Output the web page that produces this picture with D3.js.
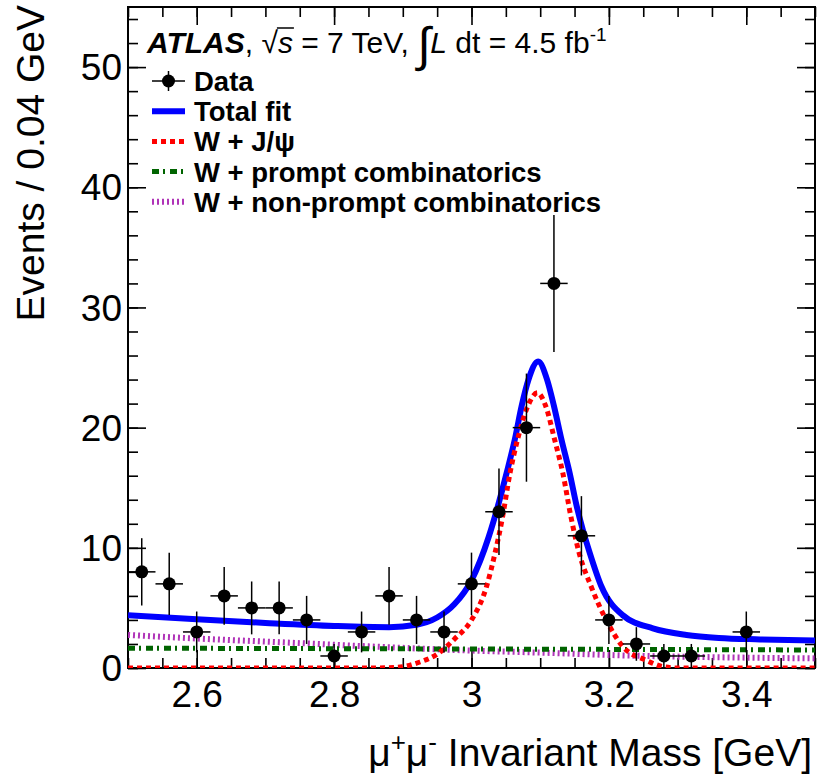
<!DOCTYPE html>
<html>
<head>
<meta charset="utf-8">
<script src="https://cdn.jsdelivr.net/npm/d3@7"></script>
<style>
  body { margin: 0; background: #fff; }
  svg text { font-family: "Liberation Sans", Arial, Helvetica, sans-serif; fill: #000; }
</style>
</head>
<body>
<svg id="chart"></svg>
<script>
// data points (bin centres, 0.04 GeV bins; empty bins are not drawn)
const massBins = [2.52, 2.56, 2.60, 2.64, 2.68, 2.72, 2.76, 2.80, 2.84, 2.88, 2.92,
    2.96, 3.00, 3.04, 3.08, 3.12, 3.16, 3.20, 3.24, 3.28, 3.32, 3.40];
const eventCounts = [8, 7, 3, 6, 5, 5, 4, 1, 3, 6, 4, 3, 7, 13, 20, 32, 11, 4, 2, 1, 1, 3];
const countErrors = [2.8, 2.6, 1.7, 2.4, 2.2, 2.2, 2.0, 1.0, 1.7, 2.4, 2.0, 1.7, 2.6,
    3.6, 4.5, 5.7, 3.3, 2.0, 1.4, 1.0, 1.0, 1.7];

// fit curves, [mass, events]
const totalFit = [[2.50, 4.4], [2.60, 4.05], [2.70, 3.75], [2.80, 3.5], [2.88, 3.4],
    [2.92, 3.6], [2.95, 4.2], [2.975, 5.3], [3.00, 7.3], [3.025, 10.9], [3.04, 13.8],
    [3.051, 16.2], [3.063, 19.0], [3.073, 21.8], [3.083, 24.0], [3.097, 25.5],
    [3.11, 24.0], [3.12, 21.8], [3.131, 19.0], [3.143, 16.2], [3.153, 13.5],
    [3.162, 11.5], [3.172, 9.6], [3.189, 6.8], [3.22, 4.4], [3.264, 3.3],
    [3.313, 2.75], [3.36, 2.5], [3.42, 2.38], [3.50, 2.28]];
const jpsiSignal = [[2.50, 0], [2.85, 0], [2.89, 0.05], [2.925, 0.5], [2.95, 1.15],
    [2.975, 2.4], [3.00, 4.0], [3.022, 6.8], [3.034, 9.5], [3.045, 12.5], [3.056, 16.2],
    [3.067, 19.0], [3.082, 21.8], [3.096, 22.9], [3.108, 21.8], [3.121, 19.0],
    [3.133, 16.2], [3.145, 12.5], [3.157, 9.5], [3.174, 6.8], [3.196, 4.0],
    [3.22, 1.8], [3.254, 0.65], [3.28, 0.1], [3.30, 0], [3.50, 0]];
const promptComb = [[2.50, 1.65], [3.00, 1.58], [3.50, 1.5]];
const nonPromptComb = [[2.50, 2.75], [2.60, 2.45], [2.72, 2.15], [2.85, 1.8],
    [3.00, 1.45], [3.10, 1.28], [3.22, 1.05], [3.35, 0.9], [3.50, 0.8]];

const xMajorTicks = [2.6, 2.8, 3, 3.2, 3.4];
const yMajorTicks = [0, 10, 20, 30, 40, 50];
const legendLabels = ["Data", "Total fit", "W + J/\u03c8", "W + prompt combinatorics",
    "W + non-prompt combinatorics"];

class MassPlot {
    margin = { top: 7, right: 2, bottom: 113, left: 128 };

    constructor(svg, width = 817, height = 781) {
        this.svg = d3.select(svg).attr("width", width).attr("height", height);
        this.width = width - this.margin.left - this.margin.right;
        this.height = height - this.margin.top - this.margin.bottom;
        this.x = d3.scaleLinear().domain([2.5, 3.5]).range([0, this.width]);
        this.y = d3.scaleLinear().domain([0, 55]).range([this.height, 0]);
        this.styles = [
            { stroke: "#0000ff", width: 6, dash: null },
            { stroke: "#ff0000", width: 5, dash: "5,4" },
            { stroke: "#006400", width: 5, dash: "7,4,2,5" },
            { stroke: "#b034b8", width: 6, dash: "2,3" }
        ];
    }

    initialize() {
        this.g = this.svg.append("g")
            .attr("transform", `translate(${this.margin.left},${this.margin.top})`);

        this.g.append("clipPath").attr("id", "plot-clip")
            .append("rect").attr("width", this.width).attr("height", this.height);

        this.createAxes();
        this.drawCurves();
        this.drawData();
        this.drawLegend();
    }

    createAxes() {
        const minorX = d3.range(2.5, 3.5001, 0.05).map(v => +v.toFixed(2));
        const minorY = d3.range(0, 55.01, 2);

        const addAxis = (axis, transform, labels) => {
            const a = this.g.append("g").attr("transform", transform).call(axis);
            a.select(".domain").remove();
            a.selectAll("line").attr("stroke", "#000").attr("stroke-width", 1.6);
            if (!labels) a.selectAll("text").remove();
            return a;
        };

        // minor ticks
        addAxis(d3.axisBottom(this.x).tickValues(minorX).tickSize(-10), `translate(0,${this.height})`);
        addAxis(d3.axisTop(this.x).tickValues(minorX).tickSize(-10), "translate(0,0)");
        addAxis(d3.axisLeft(this.y).tickValues(minorY).tickSize(-10), "translate(0,0)");
        addAxis(d3.axisRight(this.y).tickValues(minorY).tickSize(-10), `translate(${this.width},0)`);

        // major ticks
        const xb = addAxis(d3.axisBottom(this.x).tickValues(xMajorTicks).tickSize(-18)
            .tickPadding(13).tickFormat(d => d), `translate(0,${this.height})`, true);
        addAxis(d3.axisTop(this.x).tickValues(xMajorTicks).tickSize(-18), "translate(0,0)");
        const yl = addAxis(d3.axisLeft(this.y).tickValues(yMajorTicks).tickSize(-18)
            .tickPadding(6).tickFormat(d => d), "translate(0,0)", true);
        addAxis(d3.axisRight(this.y).tickValues(yMajorTicks).tickSize(-18), `translate(${this.width},0)`);

        xb.selectAll("text").style("font-size", "37px");
        yl.selectAll("text").style("font-size", "37px").attr("dy", "0.34em");

        this.g.append("rect")
            .attr("width", this.width).attr("height", this.height)
            .attr("fill", "none").attr("stroke", "#000").attr("stroke-width", 2);

        // axis titles
        const xt = this.svg.append("text")
            .attr("x", 812).attr("y", 766)
            .attr("text-anchor", "end")
            .style("font-size", "39px");
        xt.append("tspan").text("\u03bc");
        xt.append("tspan").attr("dy", -15).style("font-size", "26px").text("+");
        xt.append("tspan").attr("dy", 15).text("\u03bc");
        xt.append("tspan").attr("dy", -15).style("font-size", "26px").text("-");
        xt.append("tspan").attr("dy", 15).text(" Invariant Mass [GeV]");

        this.svg.append("text")
            .attr("transform", `translate(44,${this.margin.top - 2}) rotate(-90)`)
            .attr("text-anchor", "end")
            .style("font-size", "39px")
            .text("Events / 0.04 GeV");
    }

    drawCurves() {
        const line = d3.line()
            .x(d => this.x(d[0]))
            .y(d => this.y(d[1]))
            .curve(d3.curveMonotoneX);

        const curves = [
            { data: nonPromptComb, style: this.styles[3] },
            { data: promptComb, style: this.styles[2] },
            { data: totalFit, style: this.styles[0] },
            { data: jpsiSignal, style: this.styles[1] }
        ];

        this.g.append("g").attr("clip-path", "url(#plot-clip)")
            .selectAll("path")
            .data(curves)
            .enter().append("path")
            .attr("d", d => line(d.data))
            .attr("fill", "none")
            .attr("stroke", d => d.style.stroke)
            .attr("stroke-width", d => d.style.width)
            .attr("stroke-dasharray", d => d.style.dash);
    }

    drawData() {
        const half = 0.02;
        const pts = this.g.append("g")
            .selectAll(".pt")
            .data(massBins.map((m, i) => ({ m, n: eventCounts[i], e: countErrors[i] })))
            .enter().append("g").attr("class", "pt");

        pts.append("line")
            .attr("x1", d => this.x(d.m)).attr("x2", d => this.x(d.m))
            .attr("y1", d => this.y(d.n + d.e)).attr("y2", d => this.y(Math.max(0, d.n - d.e)))
            .attr("stroke", "#000").attr("stroke-width", 1.5);
        pts.append("line")
            .attr("x1", d => this.x(d.m - half)).attr("x2", d => this.x(d.m + half))
            .attr("y1", d => this.y(d.n)).attr("y2", d => this.y(d.n))
            .attr("stroke", "#000").attr("stroke-width", 1.5);
        pts.append("circle")
            .attr("cx", d => this.x(d.m)).attr("cy", d => this.y(d.n))
            .attr("r", 6.5).attr("fill", "#000");
    }

    drawLegend() {
        // header line
        const head = this.svg.append("text")
            .attr("x", 147).attr("y", 53)
            .style("font-size", "30px");
        head.append("tspan").style("font-weight", "bold").style("font-style", "italic").text("ATLAS");
        head.append("tspan").text(", \u221a");
        head.append("tspan").style("font-style", "italic").text("s");
        head.append("tspan").text(" = 7 TeV, ");
        head.append("tspan").attr("dy", 8).style("font-size", "48px").text("\u222b");
        head.append("tspan").attr("dy", -8).style("font-style", "italic").text("L");
        head.append("tspan").text(" dt = 4.5 fb");
        head.append("tspan").attr("dy", -12).style("font-size", "19px").text("-1");

        const node = head.node();
        const rad = node.getExtentOfChar(7);
        const s = node.getExtentOfChar(8);
        this.svg.append("line")
            .attr("x1", rad.x + rad.width - 1).attr("x2", s.x + s.width + 1)
            .attr("y1", 28).attr("y2", 28)
            .attr("stroke", "#000").attr("stroke-width", 1.5);

        const lg = this.svg.append("g").attr("transform", "translate(152,81)");
        const rows = lg.selectAll(".row")
            .data(legendLabels)
            .enter().append("g")
            .attr("transform", (d, i) => `translate(0,${i * 30.2})`);

        rows.append("text")
            .attr("x", 42).attr("y", 10)
            .style("font-size", "27.5px").style("font-weight", "bold")
            .text(d => d);

        const first = d3.select(rows.nodes()[0]);
        first.append("line").attr("x1", 0).attr("x2", 33).attr("stroke", "#000").attr("stroke-width", 1.5);
        first.append("line").attr("x1", 16.5).attr("x2", 16.5).attr("y1", -10).attr("y2", 10)
            .attr("stroke", "#000").attr("stroke-width", 1.5);
        first.append("circle").attr("cx", 16.5).attr("r", 6.5).attr("fill", "#000");

        rows.filter((d, i) => i > 0)
            .append("line")
            .attr("x1", 0).attr("x2", 33)
            .each((d, i, nodes) => {
                const st = this.styles[i];
                d3.select(nodes[i])
                    .attr("stroke", st.stroke)
                    .attr("stroke-width", st.width)
                    .attr("stroke-dasharray", st.dash);
            });
    }
}

const plot = new MassPlot("#chart");
plot.initialize();
</script>
</body>
</html>
